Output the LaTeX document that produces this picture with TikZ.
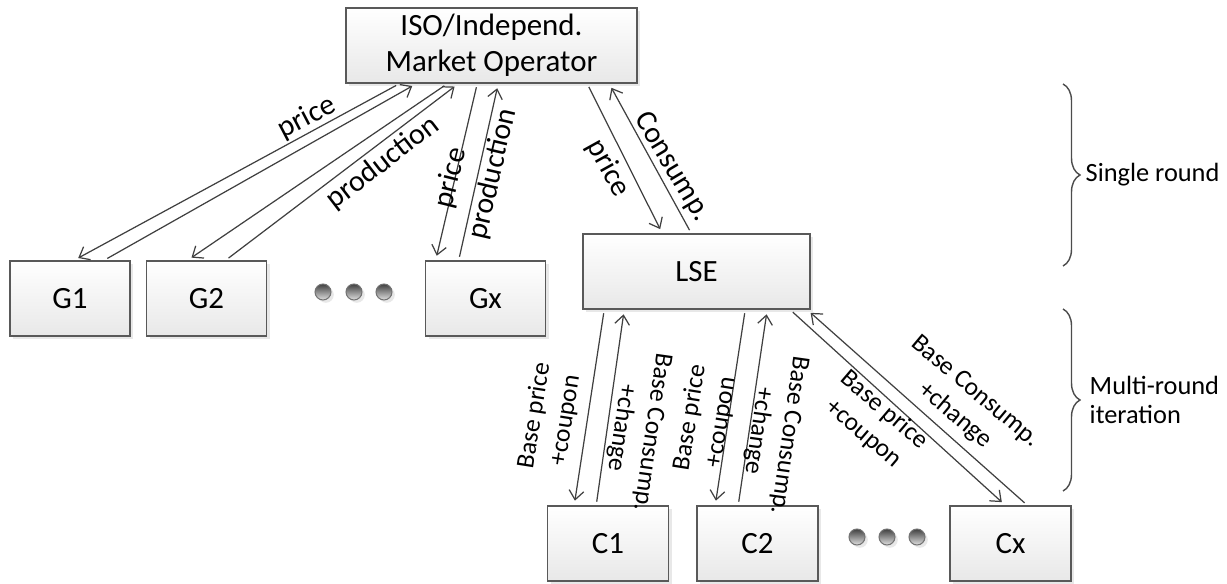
\documentclass[tikz,border=0pt]{standalone}
\usepackage{fontspec}
\setmainfont{Carlito}
\usetikzlibrary{arrows.meta,shadows,decorations.pathreplacing}

\begin{document}
\begin{tikzpicture}[
    box/.style={draw=black!65, line width=0.45pt, top color=white, bottom color=black!9,
      minimum height=0.75cm, inner sep=0pt, align=center,
      drop shadow={shadow xshift=0.9pt, shadow yshift=-0.9pt, opacity=0.18},
      font=\fontsize{8.8}{10.2}\selectfont},
    flow/.style={-{Straight Barb[length=2.6pt,width=4.2pt]}, draw=black!75, line width=0.35pt,
      shorten <=1pt, shorten >=1.3pt},
    toplbl/.style={inner sep=0pt, font=\fontsize{8.5}{9.5}\selectfont},
    botlbl/.style={inner sep=0pt, align=center, font=\fontsize{7.3}{8.9}\selectfont},
    sidelbl/.style={inner sep=0pt, anchor=west, align=left, font=\fontsize{7.5}{8.3}\selectfont},
    bulletdot/.style={circle, minimum size=0.16cm, inner sep=0pt, draw=black!55, line width=0.3pt,
      top color=black!75, bottom color=black!12,
      drop shadow={shadow xshift=0.8pt, shadow yshift=-0.8pt, opacity=0.18}},
    bracket/.style={decorate, decoration={brace, amplitude=0.17cm}, draw=black!70, line width=0.4pt},
  ]
  \useasboundingbox (0,0) rectangle (12.27,5.83);

  % Boxes
  \node[box, minimum width=2.91cm] (iso) at (4.915,5.375) {ISO/Independ.\\Market Operator};
  \node[box, minimum width=1.2cm] (g1) at (0.70,2.845) {G1};
  \node[box, minimum width=1.2cm] (g2) at (2.065,2.845) {G2};
  \node[box, minimum width=1.2cm] (gx) at (4.855,2.845) {Gx};
  \node[box, minimum width=2.27cm] (lse) at (6.965,3.115) {LSE};
  \node[box, minimum width=1.21cm] (c1) at (6.08,0.395) {C1};
  \node[box, minimum width=1.21cm] (c2) at (7.575,0.395) {C2};
  \node[box, minimum width=1.21cm] (cx) at (10.105,0.395) {Cx};

  % Dots
  \foreach \x [count=\i] in {3.23,3.54,3.84}
    \node[bulletdot] (gd\i) at (\x,2.91) {};
  \foreach \x [count=\i] in {8.57,8.87,9.17}
    \node[bulletdot] (cd\i) at (\x,0.46) {};

  % Arrows
  \foreach \g/\dn/\up/\gd/\gu in {g1/0.54/0.71/0.65/0.95, g2/1.02/1.13/0.42/0.80, gx/1.32/1.53/0.11/0.34} {
    \draw[flow] ([xshift=\dn cm]iso.south west) -- ([xshift=\gd cm]\g.north west);
    \draw[flow] ([xshift=\gu cm]\g.north west) -- ([xshift=\up cm]iso.south west);
  };
  \draw[flow] ([xshift=2.42cm]iso.south west) -- ([xshift=0.80cm]lse.north west);
  \draw[flow] ([xshift=1.09cm]lse.north west) -- ([xshift=2.64cm]iso.south west);
  \foreach \c/\dn/\up/\cd/\cu in {c1/0.22/0.42/0.275/0.495, c2/1.63/1.85/0.19/0.42, cx/2.08/2.25/0.56/0.78} {
    \draw[flow] ([xshift=\dn cm]lse.south west) -- ([xshift=\cd cm]\c.north west);
    \draw[flow] ([xshift=\cu cm]\c.north west) -- ([xshift=\up cm]lse.south west);
  };

  % Labels
  \node[toplbl, rotate=27.6] (lpg1) at (3.07,4.65) {price};
  \node[toplbl, rotate=37.5] (lmg2) at (3.83,4.20) {production};
  \node[toplbl, rotate=76] (lpgx) at (4.51,4.05) {price};
  \node[toplbl, rotate=77] (lmgx) at (4.93,4.09) {production};
  \node[toplbl, rotate=-61] (lplse) at (6.08,4.15) {price};
  \node[toplbl, rotate=-59] (lclse) at (6.72,4.16) {Consump.};

  \node[botlbl, rotate=81] (lbc1) at (5.50,1.65) {Base price\\+coupon};
  \node[botlbl, rotate=-98] (lsc1) at (6.36,1.53) {Base Consump.\\+change};
  \node[botlbl, rotate=81] (lbc2) at (7.055,1.63) {Base price\\+coupon};
  \node[botlbl, rotate=-98] (lsc2) at (7.73,1.50) {Base Consump.\\+change};
  \node[botlbl, rotate=-40.5] (lbcx) at (8.74,1.61) {Base price\\+coupon};
  \node[botlbl, rotate=-40] (lscx) at (9.65,1.79) {Base Consump.\\+change};

  % Braces
  \coordinate (s1) at (10.63,4.99);
  \coordinate (s2) at (10.63,3.17);
  \coordinate (m1) at (10.63,2.74);
  \coordinate (m2) at (10.63,0.92);
  \draw[bracket] (s1) -- (s2);
  \draw[bracket] (m1) -- (m2);
  \node[sidelbl] (single) at (10.85,4.08) {Single round};
  \node[sidelbl] (multi) at (10.89,1.83) {Multi-round\\iteration};
\end{tikzpicture}
\end{document}
